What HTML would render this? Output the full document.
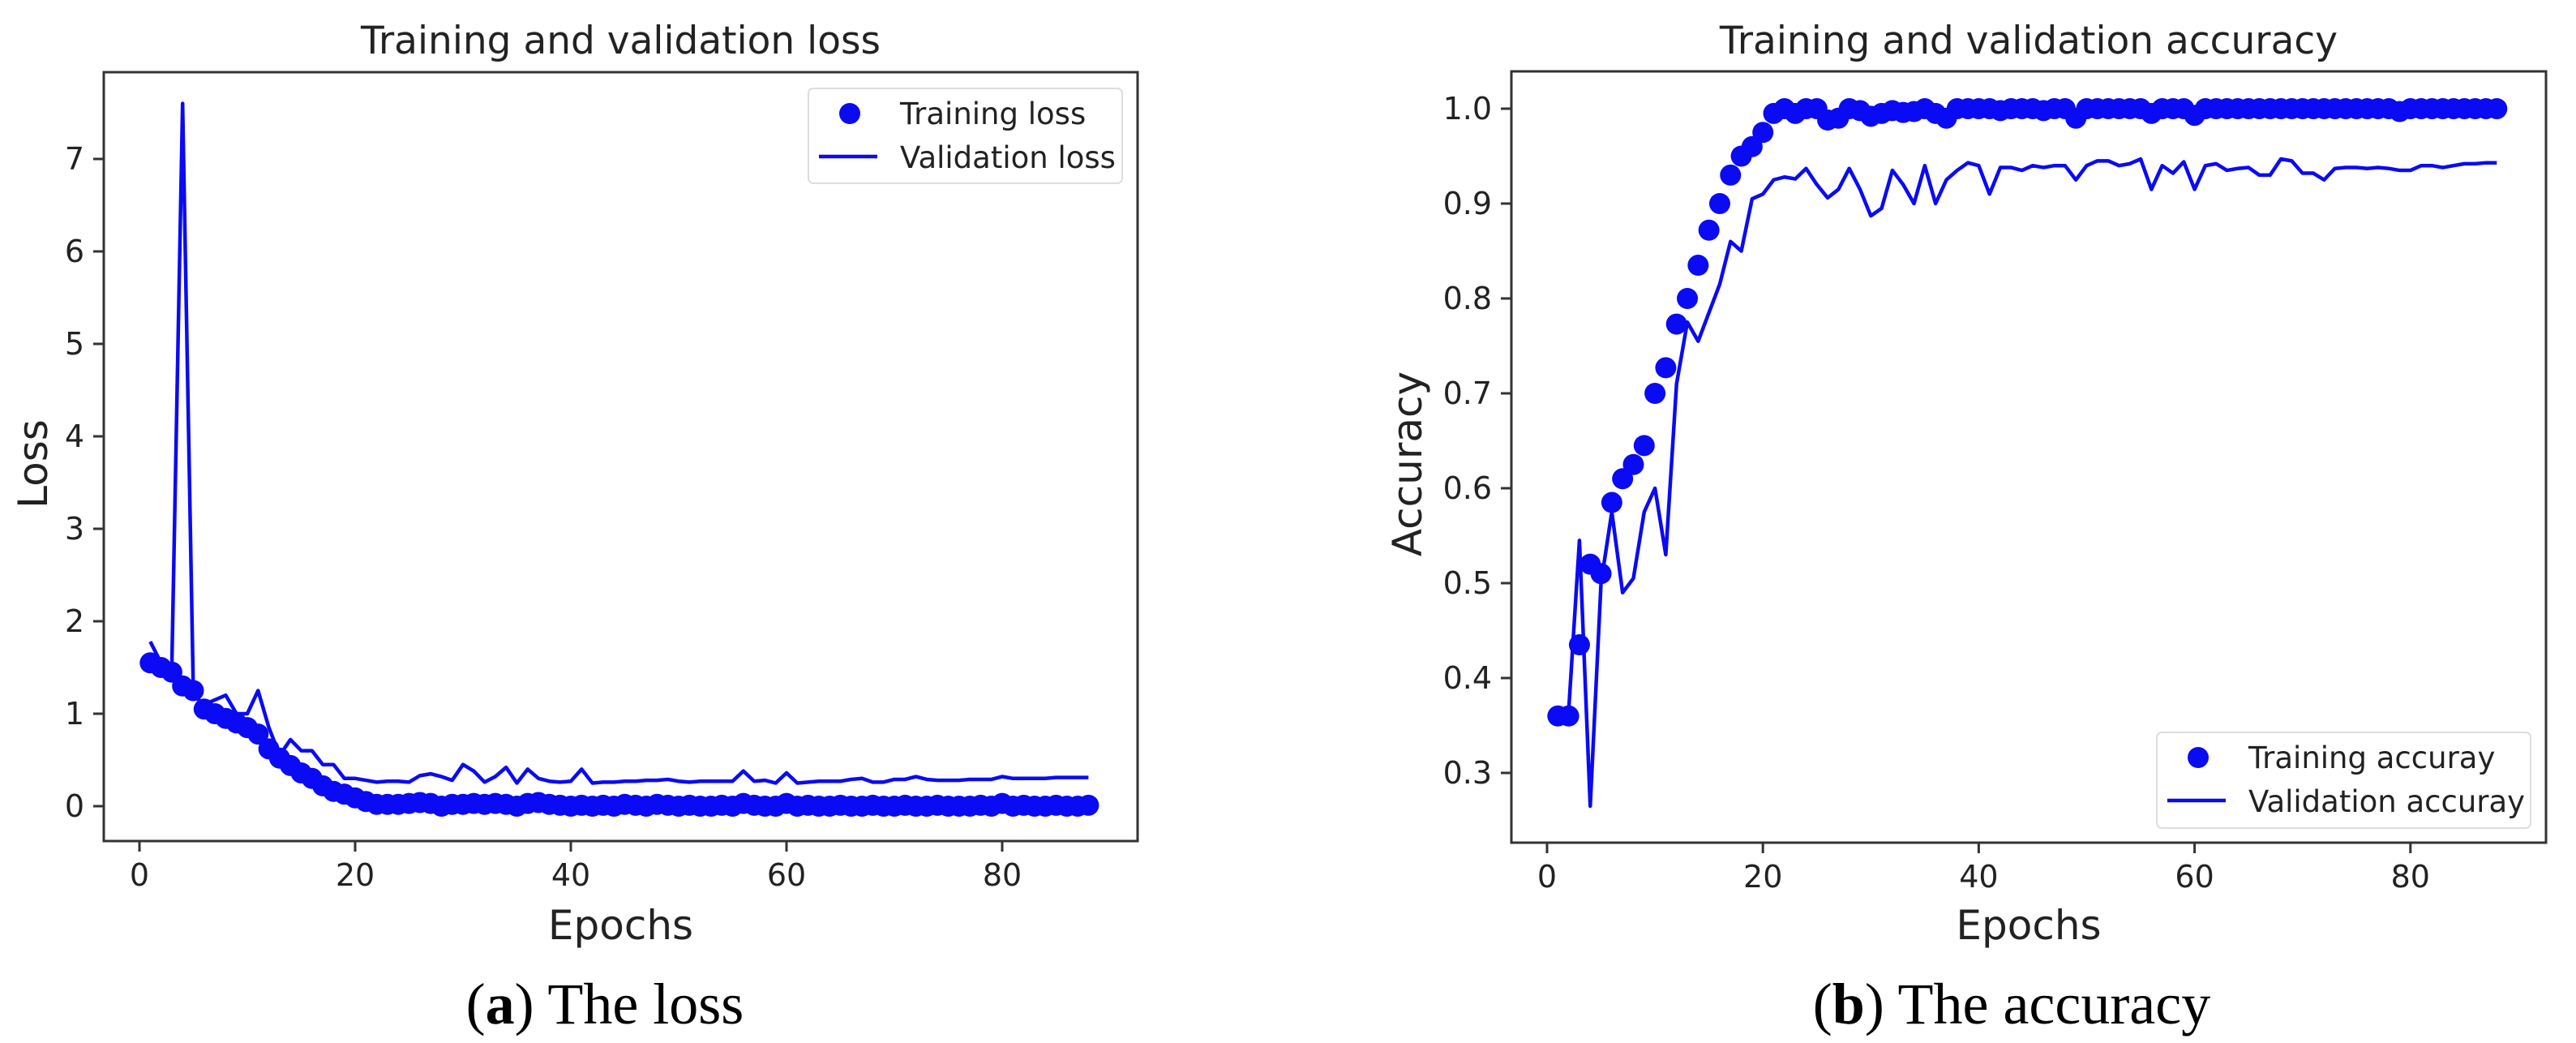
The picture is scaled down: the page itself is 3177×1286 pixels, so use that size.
<!DOCTYPE html>
<html><head><meta charset="utf-8"><style>
html,body{margin:0;padding:0;background:#fff;width:3177px;height:1286px;overflow:hidden}
svg{display:block}
.t{font-family:"DejaVu Sans","Liberation Sans",sans-serif;fill:#222}
.cap{font-family:"Liberation Serif",serif;fill:#000}
</style></head><body>
<svg id="fig" width="3177" height="1286" viewBox="0 0 3177 1286" xmlns="http://www.w3.org/2000/svg"></svg>
<script>
const epochs = Array.from({length:88},(_,i)=>i+1);
const trainLoss = [1.55,1.5,1.45,1.3,1.25,1.05,1.0,0.95,0.9,0.85,0.78,0.62,0.52,0.44,0.36,0.3,0.22,0.16,0.13,0.09,0.05,0.02,0.02,0.02,0.03,0.04,0.03,0.0,0.02,0.02,0.03,0.02,0.03,0.02,0.0,0.03,0.04,0.02,0.01,0.0,0.01,0.0,0.01,0.0,0.02,0.01,0.0,0.02,0.01,0.0,0.01,0.0,0.0,0.01,0.0,0.03,0.01,0.0,0.0,0.03,0.0,0.01,0.0,0.0,0.01,0.0,0.0,0.01,0.0,0.0,0.01,0.0,0.0,0.01,0.0,0.0,0.0,0.01,0.0,0.03,0.0,0.01,0.0,0.0,0.01,0.0,0.0,0.01];
const valLoss = [1.78,1.55,1.5,7.6,1.2,1.1,1.15,1.2,1.0,1.0,1.25,0.85,0.55,0.72,0.6,0.6,0.45,0.45,0.3,0.3,0.28,0.26,0.27,0.27,0.26,0.33,0.35,0.32,0.28,0.45,0.38,0.26,0.32,0.42,0.25,0.4,0.3,0.27,0.26,0.27,0.4,0.25,0.26,0.26,0.27,0.27,0.28,0.28,0.29,0.27,0.26,0.27,0.27,0.27,0.27,0.38,0.27,0.28,0.25,0.36,0.25,0.26,0.27,0.27,0.27,0.29,0.3,0.26,0.26,0.29,0.29,0.32,0.29,0.28,0.28,0.28,0.29,0.29,0.29,0.32,0.3,0.3,0.3,0.3,0.31,0.31,0.31,0.31];
const trainAcc = [0.36,0.36,0.435,0.52,0.51,0.585,0.61,0.625,0.645,0.7,0.727,0.773,0.8,0.835,0.872,0.9,0.93,0.95,0.96,0.975,0.995,1.0,0.995,1.0,1.0,0.988,0.99,1.0,0.998,0.992,0.995,0.998,0.996,0.997,1.0,0.995,0.99,1.0,1.0,1.0,1.0,0.998,1.0,1.0,1.0,0.998,1.0,1.0,0.99,1.0,1.0,1.0,1.0,1.0,1.0,0.995,1.0,1.0,1.0,0.993,1.0,1.0,1.0,1.0,1.0,1.0,1.0,1.0,1.0,1.0,1.0,1.0,1.0,1.0,1.0,1.0,1.0,1.0,0.997,1.0,1.0,1.0,1.0,1.0,1.0,1.0,1.0,1.0];
const valAcc = [0.36,0.365,0.545,0.265,0.5,0.575,0.49,0.505,0.575,0.6,0.53,0.71,0.775,0.755,0.785,0.815,0.86,0.85,0.905,0.91,0.925,0.928,0.926,0.937,0.92,0.906,0.915,0.937,0.915,0.887,0.895,0.935,0.92,0.9,0.94,0.9,0.925,0.935,0.943,0.94,0.91,0.938,0.938,0.935,0.94,0.938,0.94,0.94,0.925,0.94,0.945,0.945,0.94,0.942,0.947,0.915,0.94,0.932,0.944,0.915,0.94,0.942,0.935,0.937,0.938,0.93,0.93,0.947,0.945,0.932,0.932,0.925,0.937,0.938,0.938,0.937,0.938,0.937,0.935,0.935,0.94,0.94,0.938,0.94,0.942,0.942,0.943,0.943];
const xTicks = [0,20,40,60,80];
const lossTicks = [0,1,2,3,4,5,6,7];
const accTicks = [0.3,0.4,0.5,0.6,0.7,0.8,0.9,1.0];

const NS="http://www.w3.org/2000/svg";
const svg=document.getElementById('fig');
function mk(tag,attrs,parent){const e=document.createElementNS(NS,tag);for(const k in attrs)e.setAttribute(k,attrs[k]);(parent||svg).appendChild(e);return e;}
const BLUE="#0a0af5";

function panel(cfg){
  const g=mk('g',{});
  
  
  const X=v=>cfg.x0+v*cfg.xs;
  const Y=v=>cfg.y0-(v-cfg.yBase)*cfg.ys;
  const box=mk('rect',{x:cfg.L,y:cfg.T,width:cfg.R-cfg.L,height:cfg.B-cfg.T,fill:'none',stroke:'#333','stroke-width':3},g);
  
  
  xTicks.forEach(t=>{
    const l=mk('line',{x1:X(t),x2:X(t),y1:cfg.B,y2:cfg.B+13,stroke:'#333','stroke-width':3},g);
    
    
    const tx=mk('text',{x:X(t),y:cfg.B+55,'text-anchor':'middle','font-size':38,class:'t'},g);
    tx.textContent=t;
    
    
  });
  cfg.yTicks.forEach(t=>{
    const l=mk('line',{x1:cfg.L-13,x2:cfg.L,y1:Y(t),y2:Y(t),stroke:'#333','stroke-width':3},g);
    
    
    const tx=mk('text',{x:cfg.L-24,y:Y(t)+13,'text-anchor':'end','font-size':38,class:'t'},g);
    tx.textContent=cfg.fmt(t);
    
    
  });
  const pl=mk('polyline',{points:epochs.map((e,i)=>X(e)+','+Y(cfg.val[i])).join(' '),fill:'none',stroke:BLUE,'stroke-width':4.5,'stroke-linejoin':'round'},g);
  
  
  epochs.forEach((e,i)=>{
    const c=mk('circle',{cx:X(e),cy:Y(cfg.train[i]),r:13,fill:BLUE},g);
    
    
  });
  const ti=mk('text',{x:(cfg.L+cfg.R)/2,y:66,'text-anchor':'middle','font-size':47,class:'t',fill:'#111'},g);
  ti.textContent=cfg.title;
  
  
  const xl=mk('text',{x:(cfg.L+cfg.R)/2,y:1158,'text-anchor':'middle','font-size':50,class:'t'},g);
  xl.textContent='Epochs';
  
  
  const yl=mk('text',{x:0,y:0,'text-anchor':'middle','font-size':50,class:'t',transform:`translate(${cfg.ylx},572) rotate(-90)`},g);
  yl.textContent=cfg.ylabel;
  
  
  const lg=mk('g',{},g);
  
  
  const lb=cfg.leg;
  mk('rect',{x:lb.x,y:lb.y,width:lb.w,height:lb.h,rx:6,fill:'#fff',stroke:'#ddd','stroke-width':2},lg);
  mk('circle',{cx:lb.x+51,cy:lb.y+31,r:13,fill:BLUE},lg);
  const t1=mk('text',{x:lb.x+113,y:lb.y+44,'font-size':37,class:'t'},lg);
  t1.textContent=cfg.legTexts[0];
  
  
  mk('line',{x1:lb.x+13,x2:lb.x+85,y1:lb.y+84,y2:lb.y+84,stroke:BLUE,'stroke-width':4.5},lg);
  const t2=mk('text',{x:lb.x+113,y:lb.y+98,'font-size':37,class:'t'},lg);
  t2.textContent=cfg.legTexts[1];
  
  
  const cp=mk('text',{x:cfg.capx,y:1262,'text-anchor':'middle','font-size':72,class:'cap'},g);
  cp.innerHTML='(<tspan font-weight="bold">'+cfg.capLetter+'</tspan>) '+cfg.capText;
  
  
}

panel({name:'loss-chart',L:128,R:1403,T:89,B:1037,x0:172,xs:13.3,y0:994,yBase:0,ys:114,
  yTicks:lossTicks,fmt:t=>String(t),train:trainLoss,val:valLoss,
  title:'Training and validation loss',ylabel:'Loss',ylx:58,
  leg:{x:997,y:109,w:387,h:117},legTexts:['Training loss','Validation loss'],
  capx:746,capLetter:'a',capText:'The loss'});
panel({name:'accuracy-chart',L:1864,R:3140,T:88,B:1039,x0:1908,xs:13.31,y0:953,yBase:0.3,ys:1170,
  yTicks:accTicks,fmt:t=>t.toFixed(1),train:trainAcc,val:valAcc,
  title:'Training and validation accuracy',ylabel:'Accuracy',ylx:1753,
  leg:{x:2660,y:903,w:461,h:118},legTexts:['Training accuray','Validation accuray'],
  capx:2481,capLetter:'b',capText:'The accuracy'});
</script>
</body></html>
